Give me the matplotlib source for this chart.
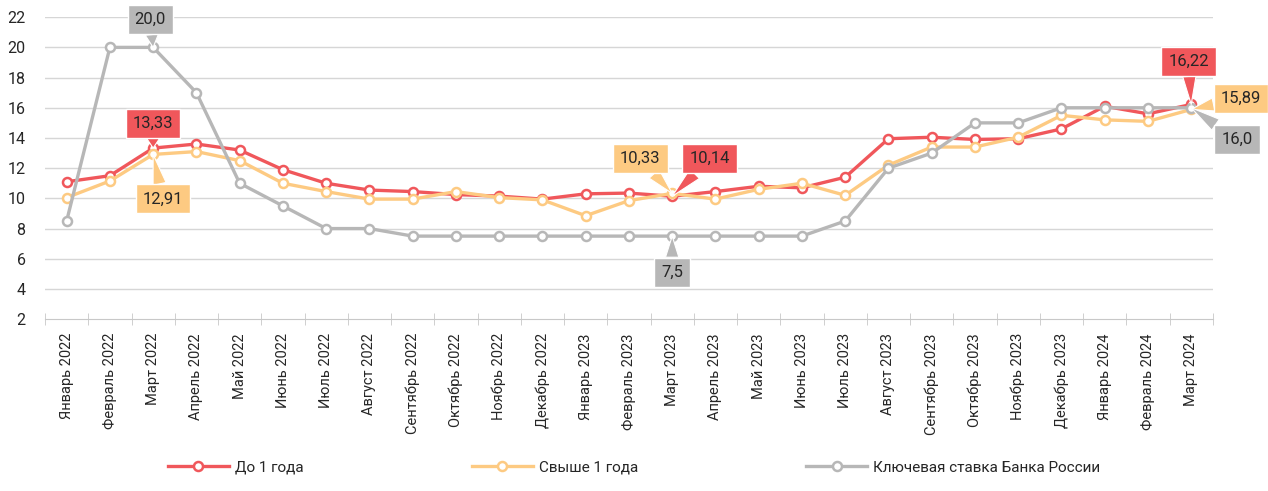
import matplotlib
matplotlib.use("Agg")
import matplotlib.pyplot as plt
from matplotlib.ticker import FixedLocator

plt.rcParams['font.family'] = ['Roboto', 'DejaVu Sans']

months = ["Январь 2022", "Февраль 2022", "Март 2022", "Апрель 2022", "Май 2022",
          "Июнь 2022", "Июль 2022", "Август 2022", "Сентябрь 2022", "Октябрь 2022",
          "Ноябрь 2022", "Декабрь 2022", "Январь 2023", "Февраль 2023", "Март 2023",
          "Апрель 2023", "Май 2023", "Июнь 2023", "Июль 2023", "Август 2023",
          "Сентябрь 2023", "Октябрь 2023", "Ноябрь 2023", "Декабрь 2023",
          "Январь 2024", "Февраль 2024", "Март 2024"]

short_term = [11.1, 11.5, 13.33, 13.6, 13.2, 11.9, 11.0, 10.55, 10.45, 10.25, 10.15, 9.95,
              10.3, 10.35, 10.14, 10.45, 10.8, 10.7, 11.4, 13.95, 14.05, 13.9, 13.95, 14.6,
              16.1, 15.6, 16.22]
long_term = [10.05, 11.15, 12.91, 13.1, 12.5, 11.0, 10.45, 9.95, 9.95, 10.45, 10.05, 9.9,
             8.85, 9.85, 10.33, 9.95, 10.6, 11.0, 10.2, 12.2, 13.4, 13.4, 14.05, 15.5,
             15.2, 15.1, 15.89]
key_rate = [8.5, 20.0, 20.0, 17.0, 11.0, 9.5, 8.0, 8.0, 7.5, 7.5, 7.5, 7.5,
            7.5, 7.5, 7.5, 7.5, 7.5, 7.5, 8.5, 12.0, 13.0, 15.0, 15.0, 16.0,
            16.0, 16.0, 16.0]

series_names = ["До 1 года", "Свыше 1 года", "Ключевая ставка Банка России"]

RED = "#f0575b"
ORANGE = "#fdca82"
GRAY = "#b7b7b7"
TXT = "#262626"

fig = plt.figure(figsize=(12.68, 4.91), dpi=100)
ax = fig.add_axes([0.0355, 0.350, 0.921, 0.615])

x = list(range(len(months)))
for vals, col, name in [(short_term, RED, series_names[0]),
                        (long_term, ORANGE, series_names[1]),
                        (key_rate, GRAY, series_names[2])]:
    ax.plot(x, vals, color=col, lw=2.4, marker='o', ms=6.5, mfc='white',
            mec=col, mew=1.8, label=name, zorder=3)

ax.set_xlim(-0.5, len(months) - 0.5)
ax.set_ylim(2, 22)
ax.set_yticks(range(2, 23, 2))
ax.set_xticks(x)
ax.set_xticklabels(months, rotation=90, fontsize=10.5, color=TXT)
ax.xaxis.set_minor_locator(FixedLocator([i - 0.5 for i in range(len(months) + 1)]))
ax.tick_params(axis='x', which='major', length=0, pad=10)
ax.tick_params(axis='x', which='minor', length=9, direction='inout', color='#c8c8c8')
ax.tick_params(axis='y', length=0, labelsize=11.5, labelcolor=TXT, pad=14)
for t in range(4, 23, 2):
    ax.axhline(t, color='#d6d6d6', lw=1, zorder=1)
for s in ['top', 'right', 'left']:
    ax.spines[s].set_visible(False)
ax.spines['bottom'].set_color('#c8c8c8')


def callout(i, vals, text, col, dx, dy):
    ax.annotate(text, xy=(i, vals[i]), xytext=(dx, dy), textcoords='offset points',
                ha='center', va='center', fontsize=12, color=TXT,
                bbox=dict(boxstyle='square,pad=0.42', fc=col, ec='white', lw=1),
                arrowprops=dict(arrowstyle='wedge,tail_width=0.8,shrink_factor=0.5',
                                fc=col, ec='white', lw=0.8, shrinkA=0, shrinkB=0),
                zorder=5)


callout(2, key_rate, "20,0", GRAY, -2, 20)
callout(2, short_term, "13,33", RED, 0, 18)
callout(2, long_term, "12,91", ORANGE, 7, -32)
callout(14, long_term, "10,33", ORANGE, -23, 25)
callout(14, short_term, "10,14", RED, 27, 27)
callout(14, key_rate, "7,5", GRAY, 0, -26)
callout(26, short_term, "16,22", RED, -2, 31)
callout(26, long_term, "15,89", ORANGE, 36, 8)
callout(26, key_rate, "16,0", GRAY, 33, -23)

fig.legend(loc='lower center', bbox_to_anchor=(0.5, 0.005), ncol=3, frameon=False,
           fontsize=11, handlelength=4, columnspacing=11, handletextpad=0.4,
           labelcolor=TXT)

fig.savefig("out.png", dpi=100)
